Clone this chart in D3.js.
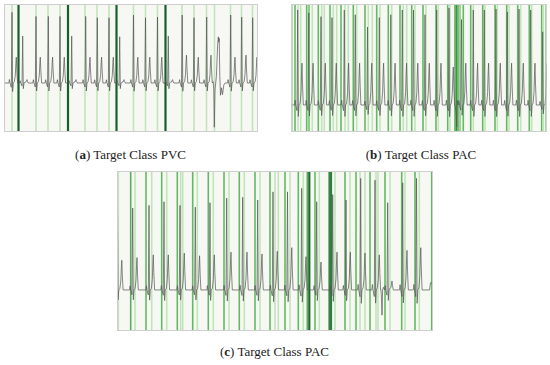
<!DOCTYPE html>
<html>
<head>
<meta charset="utf-8">
<script src="https://cdn.jsdelivr.net/npm/d3@7"></script>
<style>
  body { margin: 0; background: #fff; }
  svg { display: block; }
  .cap { font-family: "Palatino Linotype", "Book Antiqua", Palatino, "Liberation Serif", serif; font-size: 13px; fill: #222; }
</style>
</head>
<body>
<svg id="fig" width="550" height="365"></svg>
<script>
// one heartbeat, offsets in samples; value = R * shapeR + T * shapeT
var shapeDx = [-3.2, -2.6, -2.0, -0.7, 0, 0.6, 1.3, 2.4, 3.3, 3.9, 4.3, 4.8, 5.6];
var shapeR  = [0, 0.05, 0, -0.06, 1, -0.12, 0, 0.02, 0, 0, 0, 0, 0];
var shapeT  = [0, 0, 0, 0, 0, 0, 0, 0, 0.3, 0.8, 1, 0.5, 0];

// (a) Target Class PVC
var beatsA_x = [8, 18.7, 32, 44.3, 56, 67.7, 81.7, 93.3, 105, 115.7, 129.5, 141.5, 153.5, 164.3, 178.2, 190, 202.7, 226.7, 237.7, 248.7];
var beatsA_r = [1.04, 0.69, 0.98, 0.98, 0.98, 0.69, 0.98, 0.96, 0.96, 0.68, 1.0, 0.96, 0.97, 0.69, 1.0, 0.96, 0.97, 1.0, 0.97, 0.96];
var beatsA_t = [0.38, 0.05, 0.38, 0.38, 0.38, 0.05, 0.38, 0.38, 0.38, 0.05, 0.38, 0.38, 0.38, 0.05, 0.41, 0.38, 0.41, 0.38, 0.41, 0.38];
var pvcA = [[209.2, 0.02], [209.8, -0.1], [210.3, -0.65], [211, -0.1], [212.4, 0.1], [213.6, 0.55], [214.3, 0.68],
            [214.8, 0.6], [215.2, 0.66], [215.8, 0.1], [216.5, -0.18], [217.5, -0.07], [218.5, -0.17], [219.8, -0.03], [221, 0]];
var linesA_x = [8, 14.5, 32, 44, 56, 64, 81, 93, 105, 112.5, 129.5, 141.5, 153.5, 161.5, 178, 190, 202.5, 210.5, 226.5, 237.5, 248.5];
var linesA_w = [0.3, 1, 0.3, 0.3, 0.3, 1, 0.3, 0.3, 0.3, 1, 0.3, 0.3, 0.3, 1, 0.3, 0.3, 0.3, 0.3, 0.3, 0.3, 0.3];

// (b) Target Class PAC
var beatsB_x = [6.2, 17.3, 29.5, 40.5, 52.8, 63.8, 76, 87.8, 99.3, 110.8, 122, 133.5, 145.2, 157.5, 170, 181.8, 192.8, 204.5, 215.8, 227.5, 239.2, 251.2];
var beatsB_r = [1.0, 0.97, 0.93, 0.92, 1.0, 0.95, 0.82, 0.92, 0.95, 1.0, 1.0, 0.95, 1.0, 1.02, 0.9, 1.0, 1.0, 1.01, 0.98, 1.01, 1.0, 0.77];
var beatsB_t = [0.44, 0.44, 0.44, 0.44, 0.44, 0.44, 0.44, 0.44, 0.44, 0.44, 0.44, 0.44, 0.44, 0.4, 0.44, 0.44, 0.44, 0.44, 0.44, 0.44, 0.44, 0.44];
var pvcB = [[163.5, 0], [164.6, -0.08], [165.2, -0.23], [165.8, 0.05], [166.4, 0]];
var linesB_x = [0.2, 3.5, 6.5, 9.2, 15.2, 17.5, 20.8, 26.8, 30.2, 32.8, 38.5, 41.8, 45.2, 49.5, 53.5, 56.8, 61.8, 65.2, 73.5, 76.8,
                80.8, 85.2, 88.5, 96.8, 100.2, 108.5, 111.8, 115.2, 120.2, 123.5, 131.5, 134.5, 144.5, 146.8, 156.2, 158.5, 163.5, 165,
                166.5, 168.5, 171.8, 179.2, 181.8, 191.2, 193.5, 203.5, 205.8, 215.2, 217.5, 226.2, 229.2, 237.8, 240.2, 250.2, 251.8, 254.5];
var linesB_w = [0.5, 0.55, 0.3, 0.3, 0.55, 0.5, 0.3, 0.55, 0.3, 0.25, 0.55, 0.3, 0.25, 0.55, 0.3, 0.25, 0.55, 0.3, 0.55, 0.3,
                0.25, 0.55, 0.3, 0.55, 0.3, 0.55, 0.3, 0.25, 0.55, 0.3, 0.55, 0.3, 0.55, 0.3, 0.55, 0.3, 0.6, 0.75,
                0.6, 0.45, 0.55, 0.55, 0.3, 0.55, 0.3, 0.55, 0.3, 0.55, 0.3, 0.55, 0.3, 0.55, 0.3, 0.55, 0.3, 0.5];

// (c) Target Class PAC
var beatsC_x = [0.5, 15.7, 32, 47, 63, 78.3, 93, 109.7, 125.7, 140.7, 156, 170.5, 184.7, 199.7, 215.7, 229, 243.7, 258, 270.7, 285.7, 299.5];
var beatsC_r = [0.91, 0.91, 0.94, 0.98, 0.94, 0.92, 0.97, 1.02, 1.03, 1.0, 1.09, 1.09, 1.13, 0.98, 1.06, 1.0, 1.24, 1.22, 0.97, 1.19, 1.24];
var beatsC_t = [0.33, 0.36, 0.39, 0.39, 0.41, 0.38, 0.39, 0.42, 0.42, 0.4, 0.43, 0.47, 0.37, 0.31, 0.42, 0.42, 0.41, 0.39, 0.1, 0.44, 0.47];
var pvcC = [[264, 0], [264.5, -0.1], [265, -0.28], [265.6, 0], [266.4, 0.03], [312.5, 0], [313.5, 0.08], [316, 0.08]];
var linesC_x = [1.3, 13.7, 18, 29, 34.7, 44.7, 49.7, 60.3, 63.7, 65.7, 75.7, 80.3, 91.3, 96.3, 107, 112, 122.3, 127.3, 138, 143,
                153, 158, 161.3, 168, 173, 181.3, 186.3, 190.3, 192.3, 198, 202.3, 212.5, 214, 218, 228, 233, 239, 243, 248,
                253, 259, 261, 268, 273, 284.7, 288, 298, 302.3, 314.7];
var linesC_w = [0.3, 0.6, 0.3, 0.55, 0.3, 0.55, 0.3, 0.55, 0.3, 0.3, 0.55, 0.3, 0.55, 0.3, 0.55, 0.3, 0.55, 0.3, 0.55, 0.3,
                0.55, 0.3, 0.3, 0.55, 0.3, 0.55, 0.3, 0.6, 0.95, 0.55, 0.3, 0.8, 0.85, 0.3, 0.55, 0.3, 0.55, 0.3, 0.3,
                0.55, 0.3, 0.3, 0.55, 0.3, 0.55, 0.3, 0.55, 0.3, 0.55];

var svg = d3.select("#fig");

var green = d3.scaleLinear()
  .domain([0.3, 0.55, 1])
  .range(["#c2e4ba", "#62b962", "#17602a"])
  .clamp(true);

function beatPoints(bx, br, bt, extra) {
  var pts = [];
  for (var i = 0; i < bx.length; i++) {
    for (var k = 0; k < shapeDx.length; k++) {
      pts.push([bx[i] + shapeDx[k], br[i] * shapeR[k] + bt[i] * shapeT[k]]);
    }
  }
  pts = pts.concat(extra);
  pts.sort(function(a, b) { return a[0] - b[0]; });
  return pts;
}

function drawPanel(id, left, top, width, height, xMax, yDom, pts, lx, lw, letter, text, capX, capY) {
  var x = d3.scaleLinear().domain([0, xMax]).range([0, width]);
  var y = d3.scaleLinear().domain(yDom).range([height, 0]);

  var g = svg.append("g")
    .attr("transform", "translate(" + left + "," + top + ")");

  g.append("clipPath")
    .attr("id", "clip" + id)
    .append("rect")
    .attr("width", width)
    .attr("height", height);

  g.append("rect")
    .attr("width", width)
    .attr("height", height)
    .attr("fill", "#f7f8f4");

  var inner = g.append("g").attr("clip-path", "url(#clip" + id + ")");

  inner.selectAll(".hl")
    .data(d3.zip(lx, lw))
    .join("line")
    .attr("class", "hl")
    .attr("x1", function(d) { return x(d[0]); })
    .attr("x2", function(d) { return x(d[0]); })
    .attr("y1", 0)
    .attr("y2", height)
    .attr("stroke", function(d) { return green(d[1]); })
    .attr("stroke-width", function(d) { return d[1] >= 0.8 ? 2.2 : 1.6; });

  var all = [[-6, 0]].concat(pts, [[xMax + 6, pts[pts.length - 1][1]]]);
  var line = d3.line()
    .x(function(d) { return x(d[0]); })
    .y(function(d) { return y(d[1]); });

  inner.append("path")
    .datum(all)
    .attr("d", line)
    .attr("fill", "none")
    .attr("stroke", "#555")
    .attr("stroke-width", 0.7)
    .attr("stroke-linejoin", "round");

  g.append("rect")
    .attr("x", 0.5)
    .attr("y", 0.5)
    .attr("width", width - 1)
    .attr("height", height - 1)
    .attr("fill", "none")
    .attr("stroke", "#cfcfcf");

  var cap = svg.append("text")
    .attr("class", "cap")
    .attr("x", capX)
    .attr("y", capY)
    .attr("text-anchor", "middle");
  cap.append("tspan").text("(");
  cap.append("tspan").attr("font-weight", "bold").text(letter);
  cap.append("tspan").text(") " + text);
}

drawPanel("a", 4, 4, 254, 128, 254, [-0.72, 1.162],
  beatPoints(beatsA_x, beatsA_r, beatsA_t, pvcA), linesA_x, linesA_w,
  "a", "Target Class PVC", 130.5, 159);

drawPanel("b", 291.5, 4, 255, 128, 255, [-0.284, 1.063],
  beatPoints(beatsB_x, beatsB_r, beatsB_t, pvcB), linesB_x, linesB_w,
  "b", "Target Class PAC", 421, 159);

drawPanel("c", 117, 171, 316, 160, 316, [-0.456, 1.322],
  beatPoints(beatsC_x, beatsC_r, beatsC_t, pvcC), linesC_x, linesC_w,
  "c", "Target Class PAC", 274.5, 356);
</script>
</body>
</html>
